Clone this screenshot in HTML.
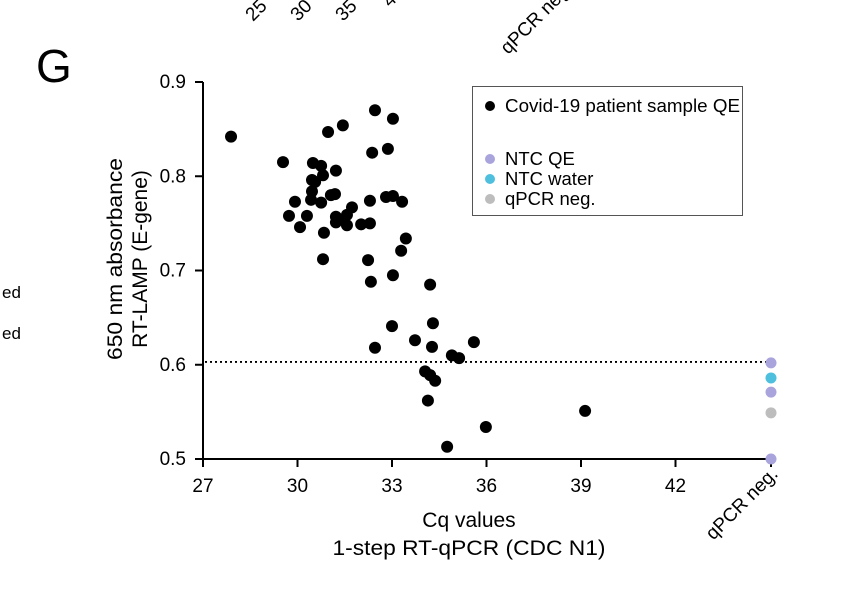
<!DOCTYPE html>
<html><head><meta charset="utf-8"><style>
body{margin:0;background:#fff;width:844px;height:590px;overflow:hidden;font-family:"Liberation Sans",Arial,sans-serif}
text{font-family:"Liberation Sans",Arial,sans-serif}
</style></head><body>
<svg id="chart" width="844" height="590" xmlns="http://www.w3.org/2000/svg">
<g font-size="19" fill="#000">
<text transform="translate(253,22) rotate(-45)">25</text>
<text transform="translate(298,22) rotate(-45)">30</text>
<text transform="translate(343,22) rotate(-45)">35</text>
<text transform="translate(390,8) rotate(-45)">40</text>
<text transform="translate(508,55) rotate(-45)">qPCR neg.</text>
<text x="2" y="298" font-size="17">ed</text>
<text x="2" y="339" font-size="17">ed</text>
</g>
<text x="36" y="82" font-size="46">G</text>
<g id="axes"></g>
<g id="marks"></g>
<g>
<rect x="472.5" y="86.5" width="270" height="129" fill="#fff" stroke="#555" stroke-width="1"/>
<circle cx="490" cy="106" r="5" fill="#000"/><text x="505" y="112" font-size="18.5" textLength="235" lengthAdjust="spacingAndGlyphs">Covid-19 patient sample QE</text>
<circle cx="490" cy="159" r="5" fill="#a9a4dc"/><text x="505" y="165" font-size="18.5">NTC QE</text>
<circle cx="490" cy="179" r="5" fill="#4fbfde"/><text x="505" y="185" font-size="18.5">NTC water</text>
<circle cx="490" cy="199" r="5" fill="#bdbdbd"/><text x="505" y="205" font-size="18.5">qPCR neg.</text>
</g>
<text x="469" y="527" font-size="21" text-anchor="middle">Cq values</text>
<text x="469" y="555" font-size="21" text-anchor="middle" textLength="273" lengthAdjust="spacingAndGlyphs">1-step RT-qPCR (CDC N1)</text>
<text transform="translate(122,259) rotate(-90)" font-size="21" text-anchor="middle" textLength="202" lengthAdjust="spacingAndGlyphs">650 nm absorbance</text>
<text transform="translate(147,259) rotate(-90)" font-size="21" text-anchor="middle">RT-LAMP (E-gene)</text>
</svg>
<script>
const cqValues=[27.89,29.54,30.97,31.44,32.46,33.03,32.37,32.87,30.49,30.75,30.81,31.22,30.46,30.56,30.46,30.43,30.75,31.06,31.19,29.92,29.73,30.30,30.08,30.84,31.22,31.22,31.44,31.57,31.73,31.57,32.02,32.30,32.30,32.81,33.03,33.32,33.44,33.29,30.81,32.24,32.33,33.03,34.21,33.00,34.30,32.46,33.73,34.27,35.60,34.90,35.13,34.05,34.21,34.37,34.14,34.75,35.98,39.13];
const absValues=[0.842,0.815,0.847,0.854,0.870,0.861,0.825,0.829,0.814,0.811,0.801,0.806,0.796,0.794,0.784,0.775,0.772,0.780,0.781,0.773,0.758,0.758,0.746,0.740,0.757,0.751,0.754,0.759,0.767,0.748,0.749,0.750,0.774,0.778,0.779,0.773,0.734,0.721,0.712,0.711,0.688,0.695,0.685,0.641,0.644,0.618,0.626,0.619,0.624,0.610,0.607,0.593,0.589,0.583,0.562,0.513,0.534,0.551];
const negValues=[0.602,0.586,0.571,0.549,0.500];
const negTypes=["NTC QE","NTC water","NTC QE","qPCR neg.","NTC QE"];
const xTicks=[27,30,33,36,39,42];
const yTicks=[0.5,0.6,0.7,0.8,0.9];
const cutoff=0.603;
const NS="http://www.w3.org/2000/svg";
const xs=v=>203+(v-27)*31.5;
const ys=v=>459-(v-0.5)*942.5;
const negX=771;
const colors={"NTC QE":"#a9a4dc","NTC water":"#4fbfde","qPCR neg.":"#bdbdbd"};
const axes=document.getElementById('axes'),marks=document.getElementById('marks');
function mk(tag,attrs,parent){const e=document.createElementNS(NS,tag);for(const k in attrs)e.setAttribute(k,attrs[k]);parent.appendChild(e);return e;}
let l=mk('line',{x1:203,y1:ys(0.9),x2:203,y2:459.5,stroke:'#000','stroke-width':2},axes);


l=mk('line',{x1:202,y1:459,x2:776,y2:459,stroke:'#000','stroke-width':2},axes);


yTicks.forEach(t=>{
 mk('line',{x1:195,y1:ys(t),x2:203,y2:ys(t),stroke:'#000','stroke-width':2},axes);
 const tx=mk('text',{x:186,y:ys(t)+6,'font-size':19,'text-anchor':'end'},axes);
 tx.textContent=t.toFixed(1);
 
 
});
xTicks.forEach(t=>{
 mk('line',{x1:xs(t),y1:459,x2:xs(t),y2:467,stroke:'#000','stroke-width':2},axes);
 const tx=mk('text',{x:xs(t),y:492,'font-size':19,'text-anchor':'middle'},axes);
 tx.textContent=t;
 
 
});
mk('line',{x1:negX,y1:459,x2:negX,y2:467,stroke:'#000','stroke-width':2},axes);
const nl=mk('text',{transform:`translate(${negX+8},475) rotate(-45)`,'font-size':19,'text-anchor':'end'},axes);
nl.textContent='qPCR neg.';


const cl=mk('line',{x1:205,y1:ys(cutoff),x2:768,y2:ys(cutoff),stroke:'#000','stroke-width':1.8,'stroke-dasharray':'2,3'},axes);


cqValues.forEach((c,i)=>{
 const p=mk('circle',{cx:xs(c),cy:ys(absValues[i]),r:6,fill:'#000'},marks);
 
 
});
negValues.forEach((v,i)=>{
 const p=mk('circle',{cx:negX,cy:ys(v),r:5.5,fill:colors[negTypes[i]]},marks);
 
 
});
</script>
</body></html>
